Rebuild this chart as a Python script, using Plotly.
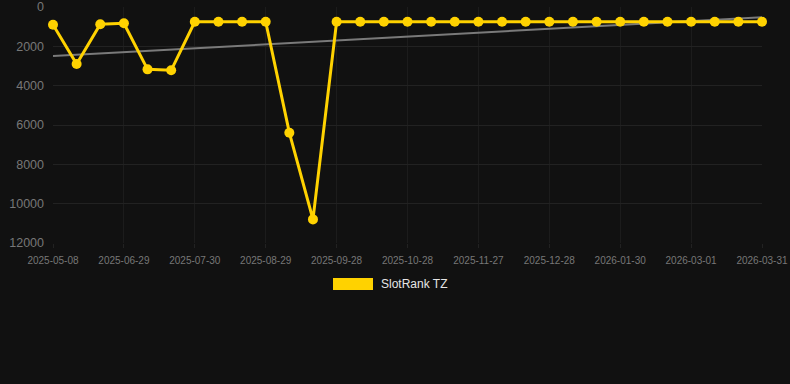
import plotly.graph_objects as go

dates = ["2025-05-08", "2025-05-26", "2025-06-12", "2025-06-29", "2025-07-09", "2025-07-20",
         "2025-07-30", "2025-08-09", "2025-08-19", "2025-08-29", "2025-09-08", "2025-09-18",
         "2025-09-28", "2025-10-08", "2025-10-18", "2025-10-28", "2025-11-07", "2025-11-17",
         "2025-11-27", "2025-12-07", "2025-12-17", "2025-12-28", "2026-01-08", "2026-01-19",
         "2026-01-30", "2026-02-09", "2026-02-19", "2026-03-01", "2026-03-11", "2026-03-21",
         "2026-03-31"]
rank = [900, 2900, 880, 830, 3170, 3220,
        750, 750, 750, 750, 6390, 10800,
        750, 750, 750, 750, 750, 750,
        750, 750, 750, 750, 750, 750,
        750, 750, 750, 750, 750, 750,
        750]
tick_labels = dates[::3]
trend_x = [dates[0], dates[-1]]
trend_y = [2490, 520]
y_ticks = [0, 2000, 4000, 6000, 8000, 10000, 12000]
y_tick_text = ["0", "2000", "4000", "6000", "8000", "10000", "12000"]

BG = "#111111"
GRID_X = "#1c1c1c"
GRID_Y = "#222222"
GOLD = "#FFD200"
TXT = "#777777"
FONT = "Liberation Sans, Arial, sans-serif"

fig = go.Figure()
fig.add_trace(go.Scatter(x=trend_x, y=trend_y, mode="lines",
                         line=dict(color="#7a7a7a", width=2),
                         showlegend=False, hoverinfo="skip", cliponaxis=False))
fig.add_trace(go.Scatter(x=dates, y=rank, mode="lines+markers", name="SlotRank TZ",
                         line=dict(color=GOLD, width=3),
                         marker=dict(color=GOLD, size=10),
                         showlegend=False, cliponaxis=False))

fig.update_layout(
    width=790, height=384,
    paper_bgcolor=BG, plot_bgcolor=BG,
    margin=dict(l=53, r=28, t=7, b=141),
    font=dict(family=FONT, color=TXT),
    showlegend=False,
    xaxis=dict(type="category", categoryorder="array", categoryarray=dates,
               range=[0, len(dates) - 1], automargin=False,
               tickmode="array", tickvals=tick_labels, ticktext=tick_labels,
               tickfont=dict(size=10, color=TXT),
               showgrid=True, gridcolor=GRID_X, gridwidth=1,
               zeroline=False, showline=False,
               ticks="outside", ticklen=4, tickcolor=GRID_Y,
               ticklabelstandoff=4),
    yaxis=dict(range=[12000, 0], tickmode="array", tickvals=y_ticks, ticktext=y_tick_text,
               automargin=False,
               tickfont=dict(size=12.5, color=TXT),
               showgrid=True, gridcolor=GRID_Y, gridwidth=1,
               zeroline=False, showline=False, ticks="",
               ticklabelstandoff=8),
    shapes=[dict(type="rect", xref="paper", yref="paper",
                 x0=(333 - 53) / 709, x1=(373 - 53) / 709,
                 y0=(243 - 290) / 236, y1=(243 - 278) / 236,
                 fillcolor=GOLD, line=dict(width=0))],
    annotations=[dict(text="SlotRank TZ", xref="paper", yref="paper",
                      x=(379 - 53) / 709, y=(243 - 284) / 236,
                      xanchor="left", yanchor="middle", showarrow=False,
                      font=dict(size=12, color="#e6e6e6", family=FONT))],
)

fig.write_html("out.html")
